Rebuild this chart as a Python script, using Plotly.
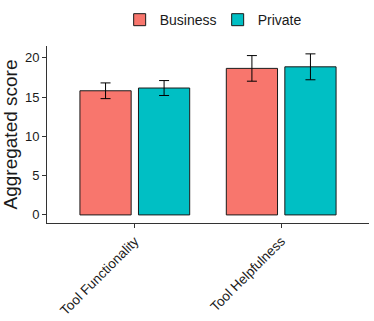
import plotly.graph_objects as go

categories = ["Tool Functionality", "Tool Helpfulness"]
business = [15.8, 18.65]
business_err = [1.0, 1.63]
private = [16.15, 18.85]
private_err = [0.95, 1.65]

fig = go.Figure()
fig.add_trace(go.Bar(
    x=categories, y=business, name="Business",
    marker=dict(color="#F8766D", line=dict(color="#1a1a1a", width=1)),
    error_y=dict(type="data", array=business_err, color="black", thickness=1, width=5),
))
fig.add_trace(go.Bar(
    x=categories, y=private, name="Private",
    marker=dict(color="#00BFC4", line=dict(color="#1a1a1a", width=1)),
    error_y=dict(type="data", array=private_err, color="black", thickness=1, width=5),
))

fig.update_layout(
    width=374, height=321,
    barmode="group", bargap=0.2, bargroupgap=0.125,
    plot_bgcolor="white", paper_bgcolor="white",
    margin=dict(l=47, r=5, t=45, b=98),
    font=dict(family="Liberation Sans, Arial, sans-serif", color="#1a1a1a"),
    legend=dict(orientation="h", x=0.53, xanchor="center", y=1.14, yanchor="middle",
                font=dict(size=14), traceorder="normal", itemwidth=30,
                entrywidth=53, entrywidthmode="pixels"),
    xaxis=dict(range=[-0.6, 1.6], showline=True, linecolor="#333333", linewidth=1,
               ticks="outside", ticklen=4, tickcolor="#333333", tickangle=-45,
               tickfont=dict(size=13.5, color="#1a1a1a"), showgrid=False, automargin=False),
    yaxis=dict(range=[-1.03, 21.5], showline=True, linecolor="#333333", linewidth=1,
               ticks="outside", ticklen=4, tickcolor="#333333",
               tickvals=[0, 5, 10, 15, 20], tickfont=dict(size=13, color="#1a1a1a"),
               showgrid=False, zeroline=False, automargin=False,
               title=dict(text="Aggregated score", font=dict(size=19), standoff=6)),
)

fig.write_html("out.html", config={"displayModeBar": False},
               post_script="document.body.style.margin='0';")
